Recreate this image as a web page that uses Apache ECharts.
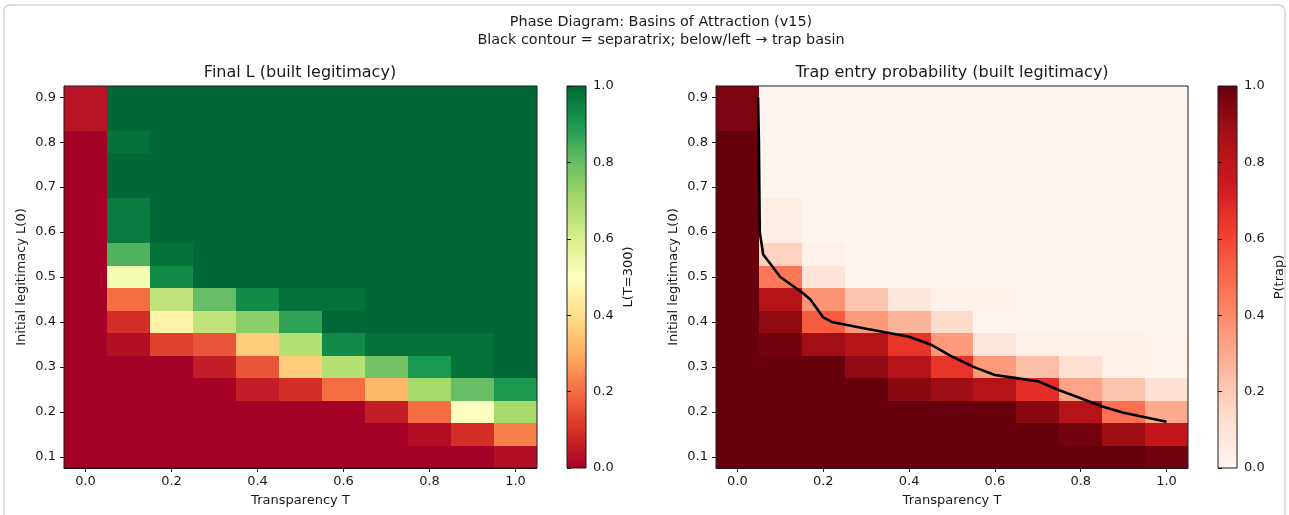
<!DOCTYPE html>
<html>
<head>
<meta charset="utf-8">
<script src="https://cdn.jsdelivr.net/npm/echarts@6/dist/echarts.min.js"></script>
<style>
html, body { margin: 0; padding: 0; background: #fff; }
#main { width: 1289px; height: 515px; }
</style>
</head>
<body>
<div id="main"></div>
<script>
// grid of the sweep
var T_VALUES = [0, 0.1, 0.2, 0.3, 0.4, 0.5, 0.6, 0.7, 0.8, 0.9, 1.0];
var L_VALUES = [0.9, 0.85, 0.8, 0.75, 0.7, 0.65, 0.6, 0.55, 0.5, 0.45, 0.4, 0.35, 0.3, 0.25, 0.2, 0.15, 0.1];

// final L(T=300), rows follow L_VALUES (top -> bottom)
var FINAL_L = [
  [0.04, 1, 1, 1, 1, 1, 1, 1, 1, 1, 1],
  [0.04, 1, 1, 1, 1, 1, 1, 1, 1, 1, 1],
  [0, 0.98, 1, 1, 1, 1, 1, 1, 1, 1, 1],
  [0, 1, 1, 1, 1, 1, 1, 1, 1, 1, 1],
  [0, 1, 1, 1, 1, 1, 1, 1, 1, 1, 1],
  [0, 0.96, 1, 1, 1, 1, 1, 1, 1, 1, 1],
  [0, 0.96, 1, 1, 1, 1, 1, 1, 1, 1, 1],
  [0, 0.83, 0.98, 1, 1, 1, 1, 1, 1, 1, 1],
  [0, 0.53, 0.93, 1, 1, 1, 1, 1, 1, 1, 1],
  [0, 0.2, 0.65, 0.8, 0.93, 0.98, 0.98, 1, 1, 1, 1],
  [0, 0.095, 0.46, 0.65, 0.74, 0.87, 1, 1, 1, 1, 1],
  [0, 0.03, 0.13, 0.16, 0.36, 0.67, 0.93, 0.98, 0.98, 0.98, 1],
  [0, 0, 0, 0.06, 0.16, 0.36, 0.67, 0.78, 0.9, 0.98, 1],
  [0, 0, 0, 0, 0.06, 0.095, 0.2, 0.32, 0.7, 0.8, 0.9],
  [0, 0, 0, 0, 0, 0, 0, 0.06, 0.2, 0.5, 0.7],
  [0, 0, 0, 0, 0, 0, 0, 0, 0.03, 0.095, 0.23],
  [0, 0, 0, 0, 0, 0, 0, 0, 0, 0, 0.03]
];

// trap entry probability, same layout
var P_TRAP = [
  [0.96, 0, 0, 0, 0, 0, 0, 0, 0, 0, 0],
  [0.96, 0, 0, 0, 0, 0, 0, 0, 0, 0, 0],
  [1, 0, 0, 0, 0, 0, 0, 0, 0, 0, 0],
  [1, 0, 0, 0, 0, 0, 0, 0, 0, 0, 0],
  [1, 0, 0, 0, 0, 0, 0, 0, 0, 0, 0],
  [1, 0.04, 0, 0, 0, 0, 0, 0, 0, 0, 0],
  [1, 0.04, 0, 0, 0, 0, 0, 0, 0, 0, 0],
  [1, 0.17, 0.03, 0, 0, 0, 0, 0, 0, 0, 0],
  [1, 0.46, 0.1, 0, 0, 0, 0, 0, 0, 0, 0],
  [1, 0.82, 0.37, 0.22, 0.08, 0.03, 0.03, 0, 0, 0, 0],
  [1, 0.92, 0.54, 0.35, 0.27, 0.14, 0, 0, 0, 0, 0],
  [1, 0.98, 0.88, 0.82, 0.65, 0.35, 0.08, 0.03, 0.03, 0.03, 0.01],
  [1, 1, 1, 0.92, 0.82, 0.65, 0.35, 0.24, 0.12, 0.03, 0.01],
  [1, 1, 1, 1, 0.93, 0.89, 0.82, 0.67, 0.32, 0.22, 0.12],
  [1, 1, 1, 1, 1, 1, 1, 0.93, 0.82, 0.48, 0.3],
  [1, 1, 1, 1, 1, 1, 1, 1, 0.98, 0.89, 0.78],
  [1, 1, 1, 1, 1, 1, 1, 1, 1, 1, 0.98]
];

// separatrix (black contour)
var CONTOUR_T = [0.048, 0.05, 0.051, 0.052, 0.06, 0.1, 0.15, 0.17, 0.2, 0.22, 0.3, 0.4, 0.45, 0.5, 0.55, 0.6, 0.65, 0.7, 0.75, 0.8, 0.85, 0.9, 0.95, 1.0];
var CONTOUR_L = [0.9, 0.8, 0.7, 0.6, 0.55, 0.5, 0.466, 0.45, 0.41, 0.4, 0.385, 0.367, 0.35, 0.323, 0.3, 0.282, 0.275, 0.268, 0.248, 0.23, 0.212, 0.198, 0.188, 0.178];

var X_TICKS = [0, 0.2, 0.4, 0.6, 0.8, 1.0];
var Y_TICKS = [0.1, 0.2, 0.3, 0.4, 0.5, 0.6, 0.7, 0.8, 0.9];

var RDYLGN = ['#a50026', '#d73027', '#f46d43', '#fdae61', '#fee08b', '#ffffbf', '#d9ef8b', '#a6d96a', '#66bd63', '#1a9850', '#006837'];
var REDS = ['#fff5f0', '#fee0d2', '#fcbba1', '#fc9272', '#fb6a4a', '#ef3b2c', '#cb181d', '#a50f15', '#67000d'];

var FONT = 'DejaVu Sans';
var TXT = '#1a1a1a';
var CELL_W = T_VALUES[1] - T_VALUES[0];
var CELL_H = L_VALUES[0] - L_VALUES[1];

function toCells(m) {
  var out = [];
  for (var i = 0; i < L_VALUES.length; i++) {
    for (var j = 0; j < T_VALUES.length; j++) {
      out.push([T_VALUES[j], L_VALUES[i], m[i][j]]);
    }
  }
  return out;
}

// snap cell edges to whole pixels so neighbours share edges (no seams)
function renderCell(params, api) {
  var t = api.value(0), l = api.value(1);
  var a = api.coord([t - CELL_W / 2, l + CELL_H / 2]);
  var b = api.coord([t + CELL_W / 2, l - CELL_H / 2]);
  var x0 = Math.round(a[0]), y0 = Math.round(a[1]);
  var x1 = Math.round(b[0]), y1 = Math.round(b[1]);
  return {
    type: 'rect',
    shape: { x: x0, y: y0, width: x1 - x0, height: y1 - y0 },
    style: { fill: api.visual('color') }
  };
}

function gradient(cols) {
  var stops = cols.map(function (c, i) { return { offset: i / (cols.length - 1), color: c }; });
  return new echarts.graphic.LinearGradient(0, 1, 0, 0, stops);
}

var txtStyle = { color: TXT, fontSize: 13, fontFamily: FONT };

function plotX(gi) {
  return {
    gridIndex: gi, type: 'value', min: -0.05, max: 1.05,
    name: 'Transparency T', nameLocation: 'middle', nameGap: 26,
    nameTextStyle: txtStyle,
    axisLine: { show: true, onZero: false, lineStyle: { color: TXT, width: 1 } },
    axisTick: { show: true, length: 4, customValues: X_TICKS, lineStyle: { color: TXT } },
    axisLabel: { customValues: X_TICKS, formatter: function (v) { return v.toFixed(1); }, margin: 7, color: TXT, fontSize: 13, fontFamily: FONT },
    splitLine: { show: false }
  };
}
function plotY(gi) {
  return {
    gridIndex: gi, type: 'value', min: 0.075, max: 0.925,
    name: 'Initial legitimacy L(0)', nameLocation: 'middle', nameGap: 36, nameRotate: 90,
    nameTextStyle: txtStyle,
    axisLine: { show: true, onZero: false, lineStyle: { color: TXT, width: 1 } },
    axisTick: { show: true, length: 4, customValues: Y_TICKS, lineStyle: { color: TXT } },
    axisLabel: { customValues: Y_TICKS, formatter: function (v) { return v.toFixed(1); }, margin: 8, color: TXT, fontSize: 13, fontFamily: FONT },
    splitLine: { show: false }
  };
}
function barX(gi) {
  return { gridIndex: gi, type: 'value', min: 0, max: 1, show: false };
}
function barY(gi, label) {
  return {
    gridIndex: gi, type: 'value', min: 0, max: 1, interval: 0.2, position: 'right',
    name: label, nameLocation: 'middle', nameGap: 36, nameRotate: 90,
    nameTextStyle: txtStyle,
    axisLine: { show: false },
    axisTick: { show: true, length: 4, lineStyle: { color: TXT } },
    axisLabel: { formatter: function (v) { return v.toFixed(1); }, margin: 7, color: TXT, fontSize: 13, fontFamily: FONT },
    splitLine: { show: false }
  };
}

var chart = echarts.init(document.getElementById('main'));

var option = {
  backgroundColor: '#fff',
  animation: false,
  graphic: [
    { type: 'rect', z: -10, shape: { x: 4, y: 5, width: 1281, height: 530, r: 6 }, style: { fill: 'none', stroke: '#d6d6d6', lineWidth: 1.5 } },
    { type: 'text', x: 661, y: 22, style: { text: 'Phase Diagram: Basins of Attraction (v15)', fill: TXT, font: '14.4px "DejaVu Sans"', align: 'center', verticalAlign: 'middle' } },
    { type: 'text', x: 661, y: 40, style: { text: 'Black contour = separatrix; below/left \u2192 trap basin', fill: TXT, font: '14.4px "DejaVu Sans"', align: 'center', verticalAlign: 'middle' } },
    { type: 'text', x: 300, y: 73, style: { text: 'Final L (built legitimacy)', fill: TXT, font: '16px "DejaVu Sans"', align: 'center', verticalAlign: 'middle' } },
    { type: 'text', x: 952, y: 73, style: { text: 'Trap entry probability (built legitimacy)', fill: TXT, font: '16px "DejaVu Sans"', align: 'center', verticalAlign: 'middle' } }
  ],
  grid: [
    { left: 64, top: 86, width: 473, height: 382, show: true, z: 5, backgroundColor: 'transparent', borderColor: TXT, borderWidth: 1 },
    { left: 567, top: 86, width: 19, height: 382, show: true, backgroundColor: gradient(RDYLGN), borderColor: TXT, borderWidth: 1 },
    { left: 716, top: 86, width: 472, height: 382, show: true, z: 5, backgroundColor: 'transparent', borderColor: TXT, borderWidth: 1 },
    { left: 1218, top: 86, width: 19, height: 382, show: true, backgroundColor: gradient(REDS), borderColor: TXT, borderWidth: 1 }
  ],
  xAxis: [plotX(0), barX(1), plotX(2), barX(3)],
  yAxis: [plotY(0), barY(1, 'L(T=300)'), plotY(2), barY(3, 'P(trap)')],
  visualMap: [
    { show: false, seriesIndex: 0, dimension: 2, min: 0, max: 1, inRange: { color: RDYLGN } },
    { show: false, seriesIndex: 1, dimension: 2, min: 0, max: 1, inRange: { color: REDS } }
  ],
  series: [
    {
      type: 'custom', xAxisIndex: 0, yAxisIndex: 0,
      renderItem: renderCell, encode: { x: 0, y: 1 },
      data: toCells(FINAL_L), clip: true, silent: true
    },
    {
      type: 'custom', xAxisIndex: 2, yAxisIndex: 2,
      renderItem: renderCell, encode: { x: 0, y: 1 },
      data: toCells(P_TRAP), clip: true, silent: true
    },
    {
      type: 'line', xAxisIndex: 2, yAxisIndex: 2, z: 4,
      data: CONTOUR_T.map(function (t, i) { return [t, CONTOUR_L[i]]; }),
      showSymbol: false, symbol: 'none', silent: true,
      lineStyle: { color: '#000', width: 2.6 }
    }
  ]
};

chart.setOption(option);
</script>
</body>
</html>
